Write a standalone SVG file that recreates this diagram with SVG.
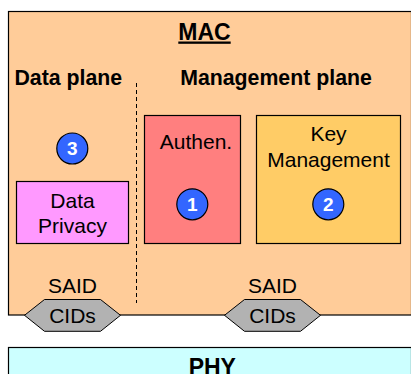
<svg xmlns="http://www.w3.org/2000/svg" width="411" height="374" viewBox="0 0 411 374">
<style>
.t{font-family:"Liberation Sans",Arial,sans-serif;fill:#000;text-anchor:middle}
.b{font-weight:bold}
.r{font-size:21px}
.box{stroke:#000;stroke-width:1.2}
.num{fill:#3366FF;stroke:#000;stroke-width:1.2}
.n{font-family:"Liberation Sans",Arial,sans-serif;font-weight:bold;font-size:19px;fill:#fff;text-anchor:middle}
.hex{fill:#B2B2B2;stroke:#000;stroke-width:1}
</style>
<rect width="411" height="374" fill="#fff"/>
<g id="mac">
<rect x="8.5" y="11.5" width="403" height="303.5" fill="#FFCC99" class="box"/>
<text x="204.5" y="39.5" class="t b" font-size="23" text-decoration="underline">MAC</text>
<text x="68.3" y="85" class="t b" font-size="21.3">Data plane</text>
<text x="276" y="85" class="t b" font-size="21.3">Management plane</text>
</g>
<g id="connectors">
<line x1="136.5" y1="83" x2="136.5" y2="303" stroke="#000" stroke-width="1" stroke-dasharray="4,3"/>
</g>
<g id="authen">
<rect x="144.5" y="115.5" width="96" height="128" fill="#FF7F7F" class="box"/>
<text x="196" y="149" class="t r">Authen.</text>
<circle cx="192.3" cy="204.3" r="15.5" class="num"/>
<text x="192.3" y="211" class="n">1</text>
</g>
<g id="keymgmt">
<rect x="256.5" y="115.5" width="144" height="128" fill="#FFCC66" class="box"/>
<text x="328.5" y="141.3" class="t r">Key</text>
<text x="328.5" y="167.3" class="t r">Management</text>
<circle cx="328.3" cy="204.3" r="15.5" class="num"/>
<text x="328.3" y="211" class="n">2</text>
</g>
<g id="dataprivacy">
<rect x="16.5" y="181.5" width="112" height="62" fill="#FF99FF" class="box"/>
<text x="72.5" y="207.7" class="t r">Data</text>
<text x="72.5" y="232.7" class="t r">Privacy</text>
</g>
<g id="badge3">
<circle cx="72.3" cy="148.5" r="15.5" class="num"/>
<text x="72.3" y="155.2" class="n">3</text>
</g>
<g id="cids-left">
<text x="72.5" y="292.7" class="t r">SAID</text>
<polygon points="24.5,315.3 44.5,299.5 100.5,299.5 120.5,315.3 100.5,331.3 44.5,331.3" class="hex"/>
<text x="72.5" y="322.7" class="t r">CIDs</text>
</g>
<g id="cids-right">
<text x="272.5" y="292.7" class="t r">SAID</text>
<polygon points="224.5,315.3 244.5,299.5 300.5,299.5 320.5,315.3 300.5,331.3 244.5,331.3" class="hex"/>
<text x="272.5" y="322.7" class="t r">CIDs</text>
</g>
<g id="phy">
<rect x="8.5" y="347.5" width="403" height="40" fill="#CCFFFF" class="box"/>
<text x="212.3" y="375" class="t b" font-size="23">PHY</text>
</g>
</svg>
